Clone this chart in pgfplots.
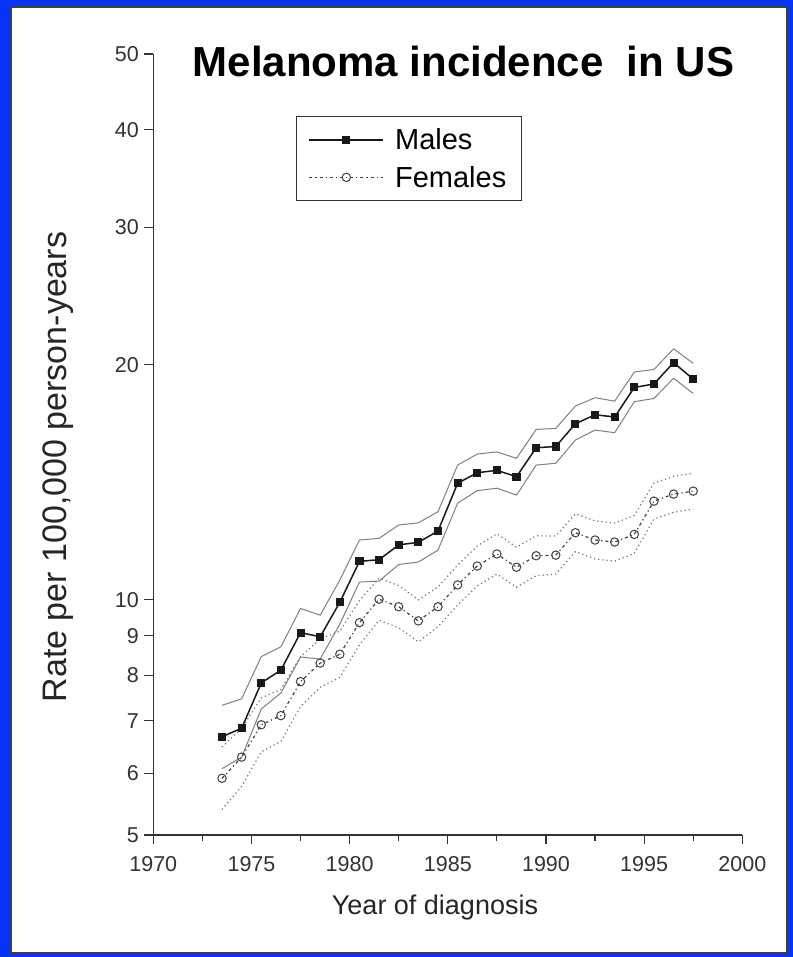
\documentclass[border=0pt]{standalone}
\usepackage{fontspec}
\setmainfont{Liberation Sans}
\usepackage{pgfplots}
\pgfplotsset{compat=1.18}
\usepackage{pgfplotstable}
\definecolor{frameblue}{RGB}{8,52,250}

% year, rate, lower and upper limits (per 100,000)
\pgfplotstableread{
year   rate  lo    hi
1973.5 6.68  6.08  7.33
1974.5 6.85  6.29  7.47
1975.5 7.83  7.25  8.46
1976.5 8.13  7.60  8.71
1977.5 9.08  8.45  9.75
1978.5 8.97  8.40  9.56
1979.5 9.93  9.31  10.60
1980.5 11.20 10.54 11.93
1981.5 11.26 10.57 11.99
1982.5 11.76 11.10 12.47
1983.5 11.85 11.18 12.55
1984.5 12.25 11.58 12.97
1985.5 14.10 13.30 14.88
1986.5 14.55 13.80 15.37
1987.5 14.65 13.90 15.47
1988.5 14.38 13.62 15.18
1989.5 15.66 14.88 16.53
1990.5 15.72 14.96 16.58
1991.5 16.81 16.02 17.71
1992.5 17.26 16.50 18.15
1993.5 17.15 16.37 17.97
1994.5 18.71 17.94 19.58
1995.5 18.90 18.11 19.73
1996.5 20.13 19.22 20.96
1997.5 19.17 18.38 20.09
}\males

\pgfplotstableread{
year   rate  lo    hi
1973.5 5.91  5.39  6.48
1974.5 6.29  5.77  6.85
1975.5 6.92  6.39  7.49
1976.5 7.11  6.59  7.68
1977.5 7.86  7.30  8.46
1978.5 8.30  7.73  8.91
1979.5 8.52  7.96  9.12
1980.5 9.35  8.76  9.98
1981.5 10.02 9.42  10.66
1982.5 9.80  9.21  10.43
1983.5 9.40  8.84  10.00
1984.5 9.80  9.24  10.39
1985.5 10.45 9.85  11.08
1986.5 11.05 10.42 11.72
1987.5 11.45 10.79 12.15
1988.5 11.01 10.38 11.68
1989.5 11.39 10.74 12.08
1990.5 11.41 10.79 12.07
1991.5 12.19 11.53 12.89
1992.5 11.93 11.28 12.62
1993.5 11.86 11.21 12.54
1994.5 12.13 11.47 12.83
1995.5 13.38 12.69 14.11
1996.5 13.66 12.95 14.40
1997.5 13.78 13.07 14.53
}\females

\begin{document}
\begin{tikzpicture}
\fill[frameblue] (0bp,0bp) rectangle (793bp,957bp);
\filldraw[fill=white,draw=black!75,line width=2bp] (11bp,4bp) rectangle (787bp,950bp);

\begin{axis}[
  at={(153.3bp,122bp)}, anchor=south west,
  scale only axis, width=589bp, height=781bp,
  xmin=1970, xmax=2000,
  ymode=log, ymin=5, ymax=50,
  axis lines=left,
  axis line style={-, line width=1.2bp, black!80},
  xtick={1970,1975,...,2000},
  xticklabels={1970,1975,1980,1985,1990,1995,2000},
  minor xtick={1972.5,1977.5,1982.5,1987.5,1992.5,1997.5},
  ytick={5,6,7,8,9,10,20,30,40,50},
  yticklabels={5,6,7,8,9,10,20,30,40,50},
  tick align=outside,
  major tick length=9bp, minor tick length=6bp,
  tick style={black!80, line width=1.2bp},
  ticklabel style={font=\fontsize{21.5bp}{24bp}\selectfont, text=black!80},
  xticklabel style={yshift=-9bp},
  yticklabel style={xshift=-2bp},
  /pgf/number format/assume math mode=true,
  legend style={at={(axis description cs:0.2423,0.9206)}, anchor=north west,
    draw=black!80, line width=1.2bp, font=\fontsize{29bp}{32bp}\selectfont,
    inner xsep=12bp, inner ysep=9bp, row sep=9bp,
    nodes={inner sep=3bp},
    /tikz/every odd column/.append style={column sep=8bp}},
  legend cell align=left,
  legend image code/.code={\draw[mark repeat=2,mark phase=2,#1]
    plot coordinates {(0bp,0bp) (37bp,0bp) (74bp,0bp)};},
]
% confidence limits
\addplot[forget plot, black!50, line width=1bp] table[x=year,y=hi] {\males};
\addplot[forget plot, black!50, line width=1bp] table[x=year,y=lo] {\males};
\addplot[forget plot, black!55, line width=1.2bp, dash pattern=on 1.2bp off 3bp] table[x=year,y=hi] {\females};
\addplot[forget plot, black!55, line width=1.2bp, dash pattern=on 1.2bp off 3bp] table[x=year,y=lo] {\females};
% rates
\addplot[black!90, line width=1.5bp, mark=square*, mark size=3.3bp, mark options={solid}]
  table[x=year,y=rate] {\males};
\addplot[black!75, line width=1.2bp, dash pattern=on 3bp off 3bp on 1.2bp off 3bp,
  mark=o, mark size=4.2bp, mark options={solid, line width=1bp, black!75}]
  table[x=year,y=rate] {\females};
\legend{Males, Females}
\end{axis}

\node[anchor=base, font=\fontsize{42bp}{42bp}\selectfont\bfseries] at (463.5bp,880bp) {Melanoma incidence\ \ in US};
\node[anchor=base, rotate=90, font=\fontsize{34bp}{36bp}\selectfont, text=black!85] at (66bp,490bp) {Rate per 100,000 person-years};
\node[anchor=base, font=\fontsize{27bp}{30bp}\selectfont, text=black!85] at (435bp,42bp) {Year of diagnosis};
\end{tikzpicture}
\end{document}
